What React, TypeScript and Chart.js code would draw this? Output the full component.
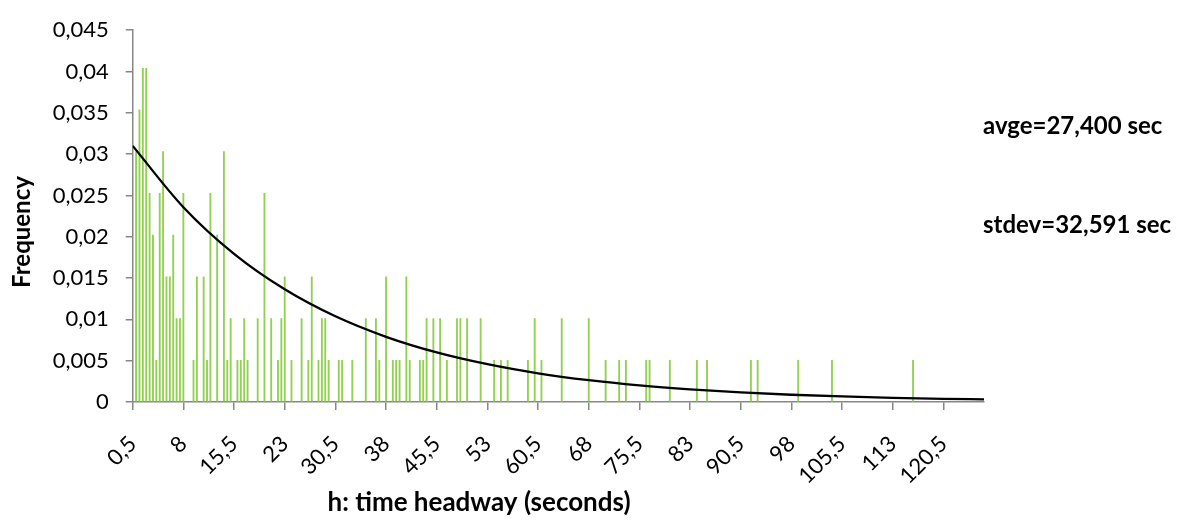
import React, { useEffect, useRef } from "react";
import { Chart, registerables } from "chart.js";

Chart.register(...registerables);

// Histogram bins (seconds) and their relative frequency
const headwayBins = [
  1, 1.5, 2, 2.5, 3, 3.5, 4, 4.5, 5, 5.5,
  6, 6.5, 7, 7.5, 8, 9.5, 10, 11, 11.5, 12,
  13, 14, 14.5, 15, 16, 16.5, 17, 17.5, 19, 20,
  21, 22, 22.5, 23, 24, 25.5, 26.5, 27, 28, 28.5,
  29, 29.5, 31, 31.5, 33, 35, 36.5, 37, 38, 39,
  39.5, 40, 41, 41.5, 43, 43.5, 44, 45, 46, 47,
  48.5, 49, 50, 52, 54, 55, 56, 59, 60, 61,
  64, 68, 70.5, 72.5, 73.5, 76.5, 77, 80, 84, 85.5,
  92, 93, 99, 104, 116,
];
const frequencies = [
  0.0303, 0.03535, 0.0404, 0.0404, 0.02525, 0.0202, 0.00505, 0.02525, 0.0303, 0.01515,
  0.01515, 0.0202, 0.0101, 0.0101, 0.02525, 0.00505, 0.01515, 0.01515, 0.00505, 0.02525,
  0.0202, 0.0303, 0.00505, 0.0101, 0.00505, 0.00505, 0.0101, 0.00505, 0.0101, 0.02525,
  0.0101, 0.00505, 0.0101, 0.01515, 0.00505, 0.0101, 0.00505, 0.01515, 0.00505, 0.0101,
  0.0101, 0.00505, 0.00505, 0.00505, 0.00505, 0.0101, 0.0101, 0.00505, 0.01515, 0.00505,
  0.00505, 0.00505, 0.01515, 0.00505, 0.00505, 0.00505, 0.0101, 0.0101, 0.0101, 0.00505,
  0.0101, 0.0101, 0.0101, 0.0101, 0.00505, 0.00505, 0.00505, 0.00505, 0.0101, 0.00505,
  0.0101, 0.0101, 0.00505, 0.00505, 0.00505, 0.00505, 0.00505, 0.00505, 0.00505, 0.00505,
  0.00505, 0.00505, 0.00505, 0.00505, 0.00505,
];

// Fitted exponential curve
const curveX = [0.5, 8, 15.5, 23, 30.5, 38, 45.5, 53, 60.5, 68, 75.5, 83, 90.5, 98, 105.5, 113, 120.5, 126.5];
const curveY = [0.031, 0.02358, 0.01793, 0.01364, 0.01037, 0.00789, 0.006, 0.00457, 0.00347, 0.00264, 0.00201, 0.00153, 0.00116, 0.00088, 0.00067, 0.00051, 0.00039, 0.00032];

// Axis tick labels
const xTickValues = [0.5, 8, 15.5, 23, 30.5, 38, 45.5, 53, 60.5, 68, 75.5, 83, 90.5, 98, 105.5, 113, 120.5];
const xMin = 0.5;
const xMax = 126.5;
const yMax = 0.045;
const yStep = 0.005;

const annotations = ["avge=27,400 sec", "stdev=32,591 sec"];
const xTitle = "h: time headway (seconds)";
const yTitle = "Frequency";

const FONT = "Lato";
const AXIS_COLOR = "#878787";

const fmt = (v: number) => String(Math.round(v * 1000) / 1000).replace(".", ",");

export default function App() {
  const ref = useRef<HTMLCanvasElement | null>(null);

  useEffect(() => {
    document.body.style.margin = "0";
    const canvas = ref.current;
    if (!canvas) return;

    const textPlugin = {
      id: "textPlugin",
      afterDraw(chart: any) {
        const ctx = chart.ctx;
        ctx.save();
        ctx.fillStyle = "#000";
        ctx.textAlign = "left";
        ctx.textBaseline = "alphabetic";
        ctx.font = `bold 24px ${FONT}`;
        ctx.fillText(annotations[0], 983, 134);
        ctx.fillText(annotations[1], 983, 233);
        ctx.textAlign = "center";
        ctx.font = `bold 26px ${FONT}`;
        ctx.fillText(xTitle, 479, 511);
        ctx.font = `bold 24px ${FONT}`;
        ctx.translate(30, 232);
        ctx.rotate(-Math.PI / 2);
        ctx.fillText(yTitle, 0, 0);
        ctx.restore();
      },
    };

    const chart = new Chart(canvas, {
      type: "bar",
      data: {
        datasets: [
          {
            type: "line",
            data: curveX.map((x, i) => ({ x, y: curveY[i] })),
            borderColor: "#000",
            borderWidth: 2.3,
            pointRadius: 0,
            cubicInterpolationMode: "monotone",
            fill: false,
            order: 0,
          } as any,
          {
            type: "bar",
            data: headwayBins.map((x, i) => ({ x, y: frequencies[i] })),
            backgroundColor: "#92D050",
            borderWidth: 0,
            barThickness: 1.2,
            order: 1,
          } as any,
        ],
      },
      options: {
        responsive: false,
        animation: false,
        devicePixelRatio: 1,
        layout: { padding: { left: 0, right: 199, top: 22, bottom: 0 } },
        plugins: { legend: { display: false }, tooltip: { enabled: false } },
        scales: {
          x: {
            type: "linear",
            min: xMin,
            max: xMax,
            offset: false,
            afterBuildTicks: (scale: any) => {
              scale.ticks = xTickValues.map((v) => ({ value: v }));
            },
            afterFit: (scale: any) => {
              scale.height = 125;
            },
            grid: {
              display: true,
              drawOnChartArea: false,
              drawTicks: true,
              tickLength: 8,
              color: AXIS_COLOR,
              lineWidth: 1.5,
              offset: false,
            },
            border: { display: true, color: AXIS_COLOR, width: 1.5 },
            ticks: {
              autoSkip: false,
              minRotation: 45,
              maxRotation: 45,
              padding: 21,
              color: "#000",
              font: { family: FONT, size: 22 },
              callback: (v: any) => fmt(Number(v)),
            },
          },
          y: {
            type: "linear",
            min: 0,
            max: yMax,
            afterFit: (scale: any) => {
              scale.width = 132.7;
            },
            grid: {
              display: true,
              drawOnChartArea: false,
              drawTicks: true,
              tickLength: 7,
              color: AXIS_COLOR,
              lineWidth: 1.5,
            },
            border: { display: true, color: AXIS_COLOR, width: 1.5 },
            ticks: {
              stepSize: yStep,
              padding: 17,
              color: "#000",
              font: { family: FONT, size: 22 },
              callback: (v: any) => fmt(Number(v)),
            },
          },
        },
      },
      plugins: [textPlugin],
    } as any);

    return () => chart.destroy();
  }, []);

  return (
    <div style={{ width: 1183, height: 527 }}>
      <canvas ref={ref} width={1183} height={527} style={{ display: "block" }} />
    </div>
  );
}
